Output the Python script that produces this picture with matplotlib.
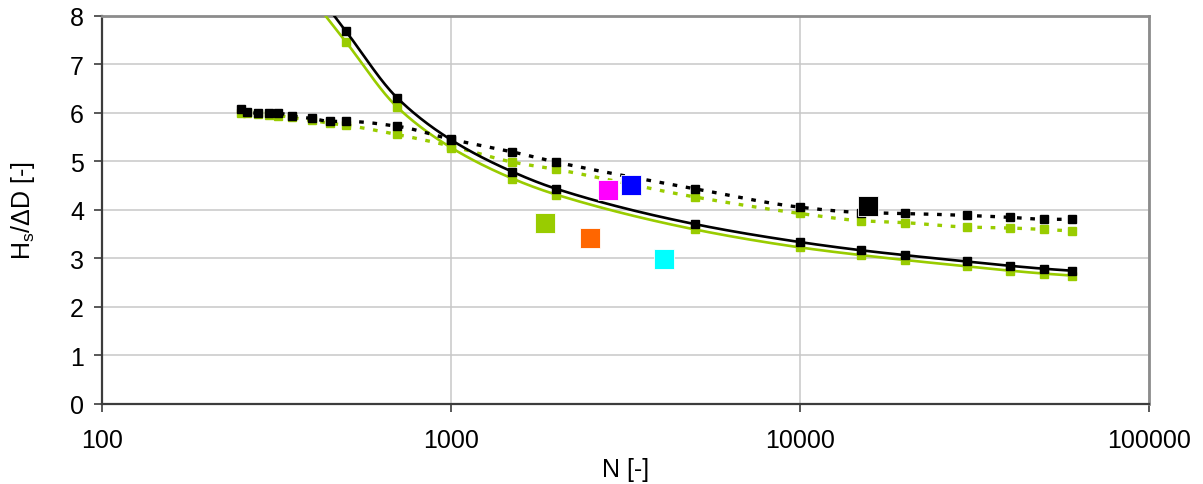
import numpy as np
import matplotlib
matplotlib.use("Agg")
import matplotlib.pyplot as plt

plt.rcParams['font.family'] = ['Liberation Sans', 'DejaVu Sans']
plt.rcParams['mathtext.fontset'] = 'custom'
plt.rcParams['mathtext.rm'] = 'Liberation Sans'

# ---- data ----
N_solid = [400, 500, 700, 1000, 1500, 2000, 5000, 10000, 15000, 20000, 30000, 40000, 50000, 60000]
black_solid = [8.6, 7.68, 6.31, 5.44, 4.78, 4.43, 3.70, 3.33, 3.16, 3.06, 2.93, 2.84, 2.78, 2.74]
green_solid = [8.35, 7.46, 6.12, 5.28, 4.64, 4.31, 3.59, 3.22, 3.06, 2.96, 2.83, 2.74, 2.68, 2.64]

N_dot = [250, 260, 280, 300, 320, 350, 400, 450, 500, 700, 1000, 1500, 2000, 5000,
         10000, 15000, 20000, 30000, 40000, 50000, 60000]
black_dot = [6.08, 6.01, 5.99, 5.99, 5.99, 5.93, 5.88, 5.82, 5.82, 5.72, 5.45, 5.19, 4.98, 4.43,
             4.05, 3.94, 3.92, 3.88, 3.84, 3.80, 3.80]
green_dot = [6.00, 5.99, 5.97, 5.96, 5.94, 5.90, 5.84, 5.78, 5.74, 5.55, 5.31, 4.98, 4.83, 4.26,
             3.92, 3.77, 3.73, 3.64, 3.62, 3.59, 3.56]

N_tests = [1860, 2500, 2820, 3270, 4070, 15700]
y_tests = [3.73, 3.42, 4.40, 4.50, 2.98, 4.07]
c_tests = ['#99CC00', '#FF6600', '#FF00FF', '#0000FF', '#00FFFF', '#000000']

GREEN = '#99CC00'


def smooth(xs, ys, n=30):
    """Monotone cubic (PCHIP) curve through the points in (log10 x, y) space."""
    x = np.log10(np.asarray(xs, float))
    y = np.asarray(ys, float)
    h = np.diff(x)
    d = np.diff(y) / h
    m = np.zeros_like(y)
    for k in range(1, len(y) - 1):
        if d[k - 1] * d[k] <= 0:
            m[k] = 0.0
        else:
            w1 = 2 * h[k] + h[k - 1]
            w2 = h[k] + 2 * h[k - 1]
            m[k] = (w1 + w2) / (w1 / d[k - 1] + w2 / d[k])
    m[0] = d[0]
    m[-1] = d[-1]
    px, py = [], []
    for k in range(len(h)):
        t = np.linspace(0, 1, n, endpoint=False)
        h00 = 2 * t ** 3 - 3 * t ** 2 + 1
        h10 = t ** 3 - 2 * t ** 2 + t
        h01 = -2 * t ** 3 + 3 * t ** 2
        h11 = t ** 3 - t ** 2
        px.append(x[k] + t * h[k])
        py.append(h00 * y[k] + h10 * h[k] * m[k] + h01 * y[k + 1] + h11 * h[k] * m[k + 1])
    px.append([x[-1]])
    py.append([y[-1]])
    return 10 ** np.concatenate(px), np.concatenate(py)


fig = plt.figure(figsize=(12.03, 4.85), dpi=100)
ax = fig.add_axes([102 / 1203, 1 - 404.5 / 485, (1149 - 102) / 1203, (404.5 - 16.7) / 485])

DOT = dict(lw=2.4, dashes=(1.4, 2.6))

# green series first
sx, sy = smooth(N_dot, green_dot)
ax.plot(sx, sy, color=GREEN, zorder=3, **DOT)
ax.plot(N_dot, green_dot, ls='none', marker='s', ms=5.2, color=GREEN, zorder=4)
sx, sy = smooth(N_solid, green_solid)
ax.plot(sx, sy, color=GREEN, lw=1.9, zorder=3)
ax.plot(N_solid, green_solid, ls='none', marker='s', ms=5.2, color=GREEN, zorder=4)

# black series
sx, sy = smooth(N_dot, black_dot)
ax.plot(sx, sy, color='black', zorder=5, **DOT)
ax.plot(N_dot, black_dot, ls='none', marker='s', ms=5.2, color='black', zorder=6)
sx, sy = smooth(N_solid, black_solid)
ax.plot(sx, sy, color='black', lw=1.9, zorder=5)
ax.plot(N_solid, black_solid, ls='none', marker='s', ms=5.2, color='black', zorder=6)

# test points
for xv, yv, cv in zip(N_tests, y_tests, c_tests):
    ax.plot([xv], [yv], ls='none', marker='s', ms=14.5, color=cv, mec='white', mew=0.6, zorder=8)

ax.set_xscale('log')
ax.set_xlim(100, 100000)
ax.set_ylim(0, 8)
ax.set_xticks([100, 1000, 10000, 100000])
ax.set_xticklabels(['100', '1000', '10000', '100000'])
ax.xaxis.set_minor_locator(matplotlib.ticker.NullLocator())
ax.set_yticks(range(0, 9))
ax.grid(True, which='major', color='#C8C8C8', lw=1.1)
ax.set_axisbelow(True)

for s in ['top', 'right']:
    ax.spines[s].set_color('#8C8C8C')
    ax.spines[s].set_linewidth(2.0)
for s in ['left', 'bottom']:
    ax.spines[s].set_color('#3C3C3C')
    ax.spines[s].set_linewidth(1.6)
ax.tick_params(axis='both', direction='out', length=6, width=1.2, color='#3C3C3C',
               labelsize=18, pad=7)
ax.tick_params(axis='x', pad=12)

ax.set_xlabel('N [-]', fontsize=18, labelpad=3)
ax.set_ylabel('H$_\\mathregular{s}$/ΔD [-]', fontsize=18, labelpad=24)

fig.savefig('out.png', dpi=100)
